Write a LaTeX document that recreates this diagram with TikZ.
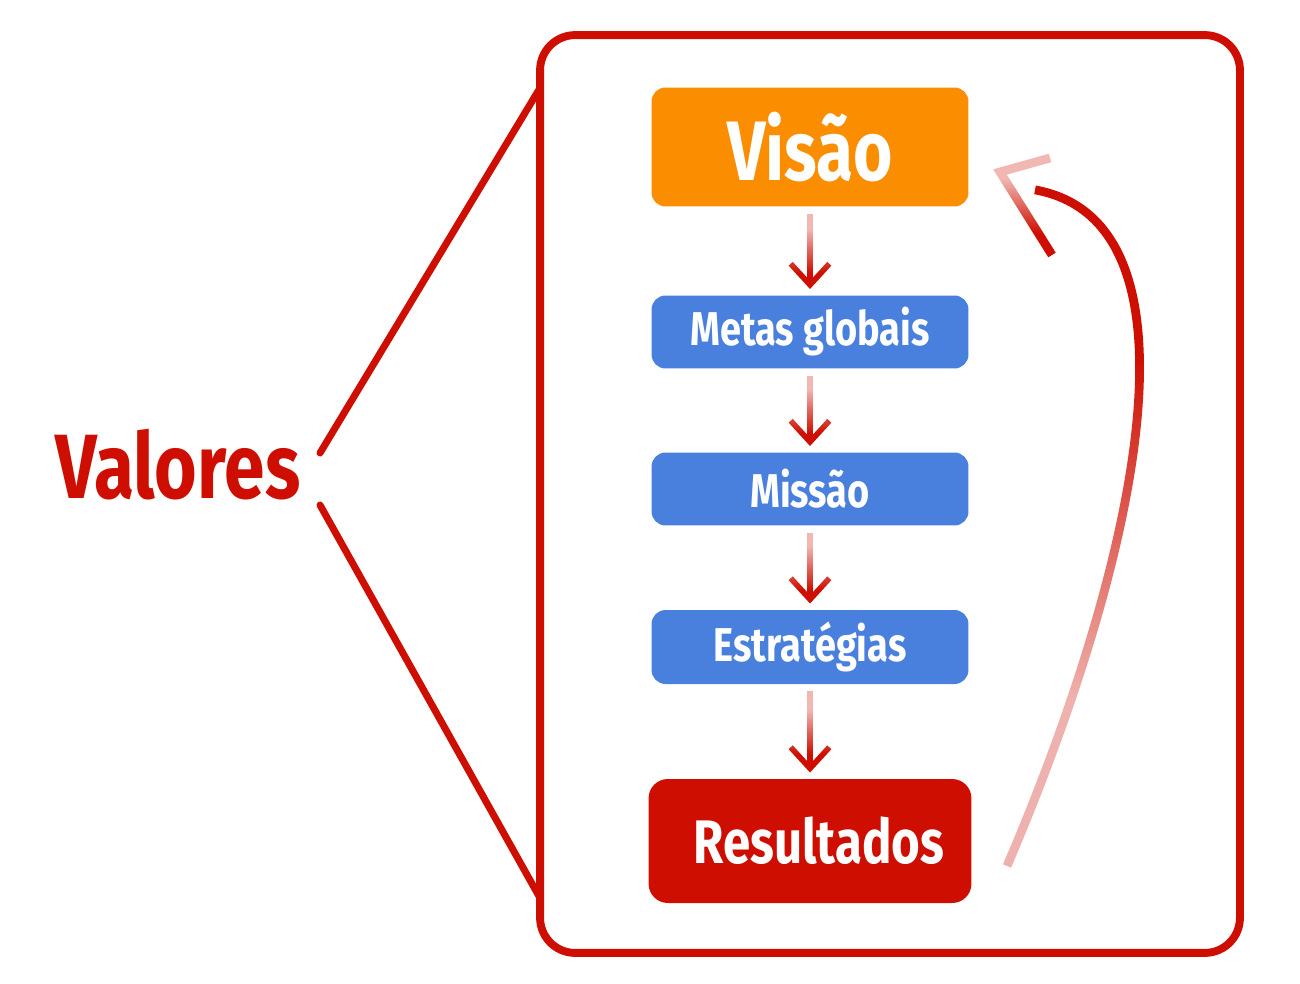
\documentclass[tikz,border=0pt]{standalone}
\usepackage{fontspec}
\setmainfont{Fira Sans}
\newfontfamily\hand[FakeStretch=0.8]{Fira Sans}
\usetikzlibrary{arrows.meta,fadings}

\definecolor{vred}{RGB}{206,14,0}
\definecolor{vorange}{RGB}{250,142,0}
\definecolor{vblue}{RGB}{74,128,221}
\tikzfading[name=fadeup, top color=transparent!0, bottom color=transparent!68]
\tikzfading[name=fadedown, top color=transparent!70, bottom color=transparent!0]

\begin{document}
\begin{tikzpicture}[x=0.02cm,y=-0.02cm,
  box/.style={rounded corners=8pt, minimum width=6.34cm, text=white},
  arr/.style={vred, line width=3.2pt, -{Straight Barb[length=12pt,width=22pt]},
    shorten <=4pt, shorten >=3.5pt, path fading=fadedown, fit fading=false,
    fading transform={shift={#1}, yscale=0.5}}]
\useasboundingbox (0,0) rectangle (1300,983);

\node [draw=vred, line width=4.5pt, rounded corners=20pt, minimum width=14cm,
  minimum height=18.36cm] (frame) at (890,494) {};

\node [text=vred, font=\hand\bfseries\fontsize{52pt}{56pt}\selectfont] (valores) at (178,465) {Valores};

\node [box, fill=vorange, minimum height=2.38cm, font=\hand\bfseries\fontsize{48pt}{52pt}\selectfont] (visao) at (810,147) {Visão};
\node [box, fill=vblue, minimum height=1.46cm, font=\hand\bfseries\fontsize{27pt}{31pt}\selectfont] (metas) at (810,332) {Metas globais};
\node [box, fill=vblue, minimum height=1.46cm, font=\hand\bfseries\fontsize{27pt}{31pt}\selectfont] (missao) at (810,489) {Missão};
\node [box, fill=vblue, minimum height=1.48cm, font=\hand\bfseries\fontsize{27pt}{31pt}\selectfont] (estrat) at (810,647) {Estratégias};
\node [box, fill=vred, rounded corners=11pt, minimum width=6.46cm, minimum height=2.48cm,
  font=\hand\bfseries\fontsize{35pt}{39pt}\selectfont] (result) at (810,841) {\hspace*{10pt}Resultados};

\draw [arr={(810,251)}] (visao) -- (metas);
\draw [arr={(810,411)}] (metas) -- (missao);
\draw [arr={(810,568)}] (missao) -- (estrat);
\draw [arr={(810,732)}] (estrat) -- (result);

% lines from the values to the frame
\coordinate (v1) at (320,453);
\coordinate (v2) at (320,505);
\coordinate (f1) at (540,88);
\coordinate (f2) at (540,898);
\draw [vred, line width=4pt, line cap=round] (v1) -- (f1);
\draw [vred, line width=4pt, line cap=round] (v2) -- (f2);

% feedback from results back to the vision
\coordinate (c1) at (1007,866);
\coordinate (c2) at (1035,190);
\coordinate (h1) at (1050,158);
\coordinate (ht) at (1000,172);
\coordinate (h2) at (1052,255);
\draw [vred, line width=5pt, path fading=fadeup, fit fading=false,
  fading transform={shift={(1070,528)}, xscale=3, yscale=3.9}]
  (c1) .. controls (1138,560) and (1212,222) .. (c2);
\draw [vred, line width=5pt, path fading=fadedown, fit fading=false,
  fading transform={shift={(1026,206)}, yscale=0.62}] (h1) -- (ht) -- (h2);
\end{tikzpicture}
\end{document}
